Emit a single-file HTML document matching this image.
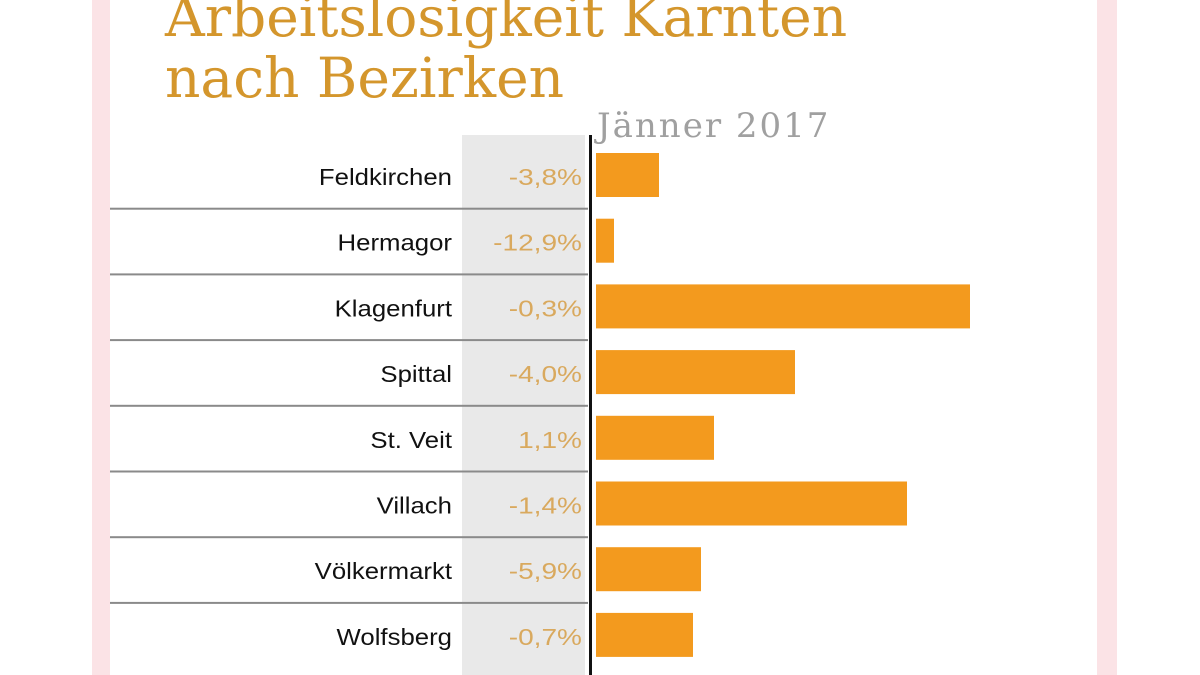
<!DOCTYPE html>
<html><head><meta charset="utf-8"><style>
html,body{margin:0;padding:0;background:#fff;width:1200px;height:675px;overflow:hidden}
svg{display:block}
</style></head><body>
<svg id="chart" width="1200" height="675" xmlns="http://www.w3.org/2000/svg">
<rect x="92" y="0" width="18" height="675" fill="#fbe3e6"/>
<rect x="1097" y="0" width="20" height="675" fill="#fbe3e6"/>
<text x="165" y="36" font-family="DejaVu Serif, Liberation Serif, serif" font-size="55" fill="#d4962c">Arbeitslosigkeit Kärnten</text>
<text x="165" y="97" font-family="DejaVu Serif, Liberation Serif, serif" font-size="55" fill="#d4962c">nach Bezirken</text>
<text x="597" y="137" font-family="DejaVu Serif, Liberation Serif, serif" font-size="34" letter-spacing="2" fill="#a0a0a0">Jänner 2017</text>
<rect x="462" y="135" width="123" height="540" fill="#e9e9e9"/>
<g id="rows"></g>
<rect x="589" y="135" width="3" height="540" fill="#111"/>
</svg>
<script>
const categories = ["Feldkirchen","Hermagor","Klagenfurt","Spittal","St. Veit","Villach","Völkermarkt","Wolfsberg"];
const values = [1260,360,7480,3980,2360,6220,2100,1940];
const changes = ["-3,8%","-12,9%","-0,3%","-4,0%","1,1%","-1,4%","-5,9%","-0,7%"];

const NS = "http://www.w3.org/2000/svg";
const g = document.getElementById("rows");
const x0 = 596, pxPerUnit = 0.05;
const xScale = v => x0 + v * pxPerUnit;
const rowTop = 144, rowH = 65.7;
const yScale = i => rowTop + i * rowH;
function mk(tag, attrs){const e=document.createElementNS(NS,tag);for(const k in attrs)e.setAttribute(k,attrs[k]);g.appendChild(e);return e;}
categories.forEach((c,i)=>{
  const y = yScale(i);
  const cy = y + 33;
  if(i>0){
    const l = mk("rect",{x:110,y:y-2,width:478,height:2,fill:"#8a8a8a"});
    
    
  }
  const b = mk("rect",{x:x0,y:y+9,width:xScale(values[i])-x0,height:44,fill:"#f39a1e"});
  
  
  const t = mk("text",{x:0,y:0,transform:"translate(452,"+(cy+8)+") scale(1.12,1)","text-anchor":"end","font-family":"Liberation Sans, sans-serif","font-size":"23",fill:"#111"});
  t.textContent = c;
  
  
  const p = mk("text",{x:0,y:0,transform:"translate(582,"+(cy+8)+") scale(1.22,1)","text-anchor":"end","font-family":"Liberation Sans, sans-serif","font-size":"23",fill:"#d9a95e"});
  p.textContent = changes[i];
  
  
});
</script>
</body></html>
